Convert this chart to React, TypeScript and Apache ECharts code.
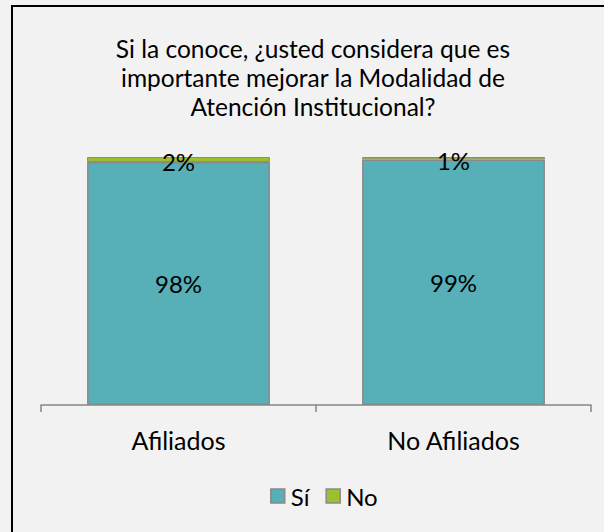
import React, { useEffect, useRef } from "react";
import * as echarts from "echarts";

const categories = ["Afiliados", "No Afiliados"];
const siValues = [98, 99];
const noValues = [2, 1];
const seriesNames = ["Sí", "No"];
const titleText =
  "Si la conoce, ¿usted considera que es\nimportante mejorar la Modalidad de\nAtención Institucional?";

export default function App() {
  const ref = useRef<HTMLDivElement>(null);
  useEffect(() => {
    document.body.style.margin = "0";
    const chart = echarts.init(ref.current!, null, { renderer: "svg" });
    const font = "Lato, 'Open Sans', sans-serif";
    chart.setOption({
      animation: false,
      backgroundColor: "#f2f2f2",
      textStyle: { fontFamily: font },
      legend: {
        top: 479,
        left: 265,
        itemWidth: 14,
        itemHeight: 14,
        itemGap: 16,
        icon: "rect",
        itemStyle: { borderColor: "#8a8a8a", borderWidth: 1.5 },
        textStyle: { fontFamily: font, fontSize: 24, color: "#000", padding: [0, 0, 0, 1] },
        data: seriesNames,
      },
      graphic: [
        {
          type: "rect",
          shape: { x: 12, y: 6, width: 620, height: 560 },
          style: { fill: "none", stroke: "#000", lineWidth: 2 },
          silent: true,
        },
        {
          type: "text",
          x: 313,
          y: 34,
          silent: true,
          style: {
            text: titleText,
            fontFamily: font,
            fontSize: 24.5,
            lineHeight: 29,
            fill: "#000",
            textAlign: "center",
            textVerticalAlign: "top",
          },
        },
      ],
      grid: { left: 41, right: 13, top: 157, bottom: 127 },
      xAxis: {
        type: "category",
        data: categories,
        boundaryGap: true,
        axisLine: { lineStyle: { color: "#868686", width: 1.5 } },
        axisTick: { show: true, interval: 0, length: 7, lineStyle: { color: "#868686", width: 1.5 } },
        axisLabel: { fontFamily: font, fontSize: 25, color: "#000", margin: 22 },
      },
      yAxis: {
        type: "value",
        min: 0,
        max: 100,
        show: false,
        splitLine: { show: false },
      },
      series: [
        {
          name: seriesNames[0],
          type: "bar",
          stack: "total",
          barWidth: "66.5%",
          data: siValues,
          itemStyle: { color: "#57afb8", borderColor: "#8a8a8a", borderWidth: 1.5 },
          label: {
            show: true,
            position: "inside",
            formatter: "{c}%",
            fontFamily: font,
            fontSize: 24,
            color: "#000",
          },
        },
        {
          name: seriesNames[1],
          type: "bar",
          stack: "total",
          barWidth: "66.5%",
          data: noValues,
          itemStyle: { color: "#9bc12f", borderColor: "#8a8a8a", borderWidth: 1 },
          label: {
            show: true,
            position: "inside",
            formatter: "{c}%",
            fontFamily: font,
            fontSize: 24,
            color: "#000",
            offset: [0, 2],
          },
        },
      ],
    });
    return () => chart.dispose();
  }, []);
  return <div ref={ref} style={{ width: 604, height: 532 }} />;
}
